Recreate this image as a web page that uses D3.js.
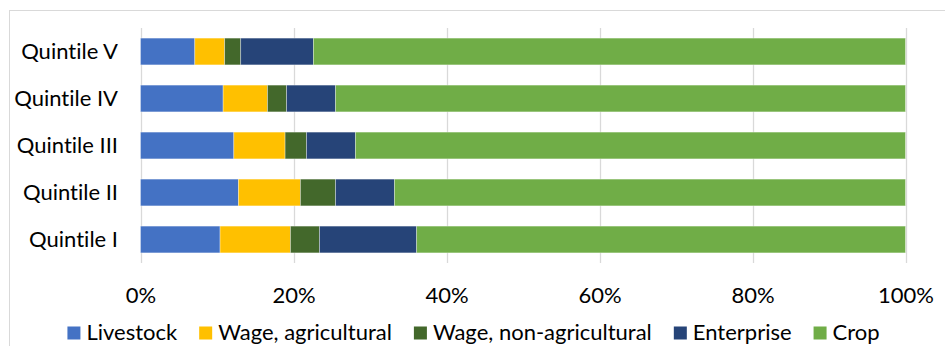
<!DOCTYPE html>
<html>
<head>
<meta charset="utf-8">
<script src="https://cdn.jsdelivr.net/npm/d3@7"></script>
<style>
  html, body { margin: 0; padding: 0; background: #fff; }
  svg { display: block; font-family: Lato, "Open Sans", sans-serif; font-variant-ligatures: none; font-feature-settings: "liga" 0; }
</style>
</head>
<body>
<svg id="chart" width="945" height="346"></svg>
<script>
// Income shares by source, per expenditure quintile (percent of total)
const quintiles = ["Quintile V", "Quintile IV", "Quintile III", "Quintile II", "Quintile I"];
const sources = ["Livestock", "Wage, agricultural", "Wage, non-agricultural", "Enterprise", "Crop"];
const livestock   = [7.1, 10.8, 12.2, 12.8, 10.4];
const wageAg      = [3.9,  5.8,  6.7,  8.1,  9.2];
const wageNonAg   = [2.1,  2.5,  2.8,  4.6,  3.8];
const enterprise  = [9.5,  6.4,  6.4,  7.7, 12.7];
const crop        = [77.4, 74.5, 71.9, 66.8, 63.9];
const tickValues  = [0, 20, 40, 60, 80, 100];
const colors      = ["#4472c4", "#ffc000", "#43682b", "#264478", "#70ad47"];

const seriesValues = [livestock, wageAg, wageNonAg, enterprise, crop];
const rows = quintiles.map((q, i) => {
  const r = { quintile: q };
  sources.forEach((s, j) => { r[s] = seriesValues[j][i]; });
  return r;
});

const svg = d3.select("#chart");
const plot = { left: 140.5, right: 905.5, top: 28, bottom: 263 };

// chart area frame
svg.append("rect")
  .attr("x", 9.5).attr("y", 10.5)
  .attr("width", 1000).attr("height", 1000)
  .attr("fill", "none").attr("stroke", "#d9d9d9").attr("stroke-width", 1);

const x = d3.scaleLinear().domain([0, 100]).range([plot.left, plot.right]);
const y = d3.scaleBand().domain(quintiles).range([plot.top, plot.bottom]).paddingInner(0.43).paddingOuter(0.215);

// vertical gridlines
svg.append("g")
  .selectAll("line")
  .data(tickValues)
  .join("line")
  .attr("x1", d => Math.round(x(d)) + 0.5).attr("x2", d => Math.round(x(d)) + 0.5)
  .attr("y1", plot.top).attr("y2", plot.bottom)
  .attr("stroke", "#d9d9d9").attr("stroke-width", 1.3);

// stacked bars
const stacked = d3.stack().keys(sources)(rows);
const color = d3.scaleOrdinal().domain(sources).range(colors);

svg.append("g")
  .selectAll("g")
  .data(stacked)
  .join("g")
  .attr("fill", d => color(d.key))
  .selectAll("rect")
  .data(d => d)
  .join("rect")
  .attr("x", d => x(d[0]))
  .attr("width", d => x(d[1]) - x(d[0]))
  .attr("y", d => y(d.data.quintile))
  .attr("height", y.bandwidth())
  .attr("stroke", "#ffffff").attr("stroke-opacity", 0.45).attr("stroke-width", 0.75);

// category axis labels
svg.append("g")
  .selectAll("text")
  .data(quintiles)
  .join("text")
  .attr("x", 118)
  .attr("y", d => y(d) + y.bandwidth() / 2)
  .attr("dy", "0.36em")
  .attr("text-anchor", "end")
  .attr("font-size", 22)
  .attr("fill", "#000")
  .text(d => d);

// value axis labels
const xAxis = d3.axisBottom(x).tickValues(tickValues).tickFormat(d => d + "%").tickSize(0).tickPadding(0);
const gx = svg.append("g").attr("transform", `translate(0, 302.5)`).call(xAxis);
gx.select(".domain").remove();
gx.selectAll("text")
  .attr("dy", 0).attr("y", 0)
  .attr("font-size", 22).attr("font-family", "Lato, 'Open Sans', sans-serif").attr("fill", "#000");

// legend
const legend = svg.append("g");
const items = legend.selectAll("g").data(sources).join("g");
items.append("rect")
  .attr("width", 13).attr("height", 13)
  .attr("y", 326.5)
  .attr("fill", d => color(d));
items.append("text")
  .attr("x", 19).attr("y", 340)
  .attr("font-size", 22).attr("fill", "#000")
  .text(d => d);

let cursor = 0;
items.each(function () {
  const g = d3.select(this);
  const w = g.select("text").node().getComputedTextLength();
  g.attr("transform", `translate(${cursor},0)`);
  cursor += 19 + w + 22;
});
const total = cursor - 22;
legend.attr("transform", `translate(${473.5 - total / 2},0)`);
</script>
</body>
</html>
